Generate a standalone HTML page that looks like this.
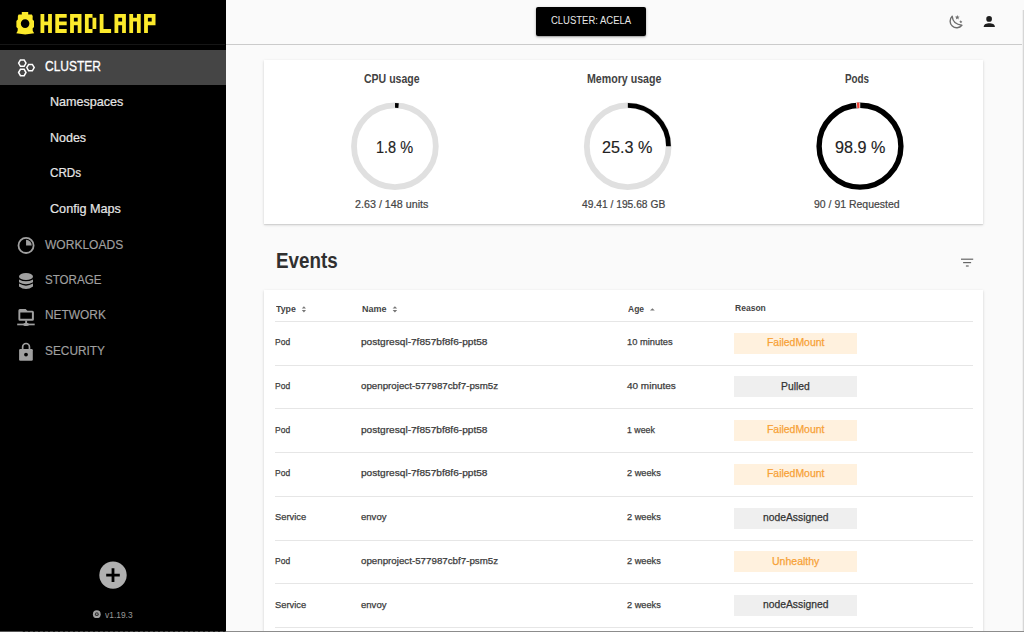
<!DOCTYPE html>
<html><head><meta charset="utf-8"><style>
html,body{margin:0;padding:0;width:1024px;height:632px;overflow:hidden;background:#fafafa;font-family:"Liberation Sans", sans-serif;}
.t{position:absolute;white-space:pre;line-height:1;transform-origin:0 0;}
.abs{position:absolute;}
</style></head><body>
<!-- sidebar -->
<div class=abs style="left:0;top:0;width:225.5px;height:632px;background:#000"></div>
<div class=abs style="left:0;top:44px;width:225px;height:1px;background:#161616"></div>
<div class=abs style="left:0;top:49.6px;width:225.5px;height:35px;background:#454545"></div>
<svg style="position:absolute;left:0;top:0" width="170" height="45" viewBox="0 0 170 45">
<g fill="#fcea2b">
<path fill-rule="evenodd" d="M21.8 12.1 H28.2 V14.5 H31.8 L32.7 16 L32.6 19.5 L34 21 L34 27 L32.6 28.5 L32.8 31 L34.2 33.2 L25.2 34.4 L16.3 33.2 L17.6 31 L17.8 28.5 L16.4 27 L16.4 21 L17.8 19.5 L17.9 16 L18.6 14.5 H21.8 Z M25.1 19.3 A4.3 4.3 0 1 0 25.1 27.9 A4.3 4.3 0 1 0 25.1 19.3 Z"/>
<path d="M40.50 13.90h3.80v19.00h-3.80ZM48.10 13.90h3.80v19.00h-3.80ZM44.30 21.50h3.80v3.80h-3.80ZM55.30 13.90h3.80v19.00h-3.80ZM59.10 13.90h3.80v3.80h-3.80ZM62.90 13.90h3.80v3.80h-3.80ZM59.10 21.50h3.80v3.80h-3.80ZM62.90 21.50h3.80v3.80h-3.80ZM59.10 29.10h3.80v3.80h-3.80ZM62.90 29.10h3.80v3.80h-3.80ZM70.10 13.90h3.80v19.00h-3.80ZM77.70 13.90h3.80v19.00h-3.80ZM73.90 13.90h3.80v3.80h-3.80ZM73.90 21.50h3.80v3.80h-3.80ZM84.90 13.90h3.80v19.00h-3.80ZM88.70 13.90h3.80v3.80h-3.80ZM88.70 29.10h3.80v3.80h-3.80ZM92.50 17.70h3.80v11.40h-3.80ZM99.70 13.90h3.80v19.00h-3.80ZM103.50 29.10h3.80v3.80h-3.80ZM107.30 29.10h3.80v3.80h-3.80ZM114.50 13.90h3.80v19.00h-3.80ZM122.10 13.90h3.80v19.00h-3.80ZM118.30 13.90h3.80v3.80h-3.80ZM118.30 21.50h3.80v3.80h-3.80ZM129.30 13.90h3.80v19.00h-3.80ZM136.90 13.90h3.80v19.00h-3.80ZM133.10 17.70h3.80v3.80h-3.80ZM144.10 13.90h3.80v19.00h-3.80ZM147.90 13.90h3.80v3.80h-3.80ZM151.70 13.90h3.80v11.40h-3.80ZM147.90 21.50h3.80v3.80h-3.80Z"/>
</g></svg>
<svg class=abs style="left:0;top:0" width="226" height="632">
<g fill="none" stroke="#fff" stroke-width="1.5">
<path d="M18.6 63.1 L20.45 59.9 L24.15 59.9 L26 63.1 L24.15 66.3 L20.45 66.3 Z"/>
<path d="M26.8 67.6 L28.65 64.4 L32.35 64.4 L34.2 67.6 L32.35 70.8 L28.65 70.8 Z"/>
<path d="M18.6 72.5 L20.45 69.3 L24.15 69.3 L26 72.5 L24.15 75.7 L20.45 75.7 Z"/>
</g>
<g fill="#a0a0a0" stroke="#a0a0a0">
<circle cx="26.05" cy="245.45" r="7.55" fill="none" stroke-width="1.8"/>
<path d="M26.05 239.75 V245.45 H31.75 A5.7 5.7 0 0 0 26.05 239.75 Z" stroke="none"/>
</g>
<g fill="#a0a0a0">
<ellipse cx="26" cy="276.5" rx="7" ry="3.6"/>
<path d="M19 279.4 Q26 283.1 33 279.4 V282.2 Q26 286.2 19 282.2 Z"/>
<path d="M19 283.6 Q26 287.8 33 283.6 V286.6 Q26 291.6 19 286.6 Z"/>
</g>
<g fill="#a0a0a0">
<path fill-rule="evenodd" d="M19.9 308.9 H25.6 L27.4 310.8 H32.4 Q33.9 310.8 33.9 312.3 V319.2 Q33.9 320.7 32.4 320.7 H19.9 Q18.4 320.7 18.4 319.2 V310.4 Q18.4 308.9 19.9 308.9 Z M20.3 312.5 V318.8 H31.9 V312.5 Z"/>
<rect x="25.2" y="320.5" width="1.9" height="3.3"/>
<rect x="17.2" y="323.6" width="17.5" height="1.7"/>
<ellipse cx="26.15" cy="324.4" rx="2.9" ry="1.7"/>
</g>
<g fill="#a8a8a8">
<path d="M22.65 349.6 V346.9 A3.4 3.4 0 0 1 29.45 346.9 V349.6" fill="none" stroke="#a0a0a0" stroke-width="1.7"/>
<rect x="19.1" y="349.1" width="13.7" height="11.7" rx="1.2" fill="#a0a0a0"/>
</g>
<circle cx="26" cy="354.6" r="1.9" fill="#000"/>
<circle cx="113" cy="575.1" r="13.7" fill="#b0b0b0"/>
<path d="M106.2 575.1 H119.8 M113 568.3 V581.9" stroke="#000" stroke-width="2.8"/>
<circle cx="96.8" cy="614.2" r="3.9" fill="#a0a0a0"/>
<circle cx="96.8" cy="614.2" r="1.9" fill="#303030"/>
<circle cx="96.8" cy="614.2" r="0.9" fill="#909090"/>
</svg>
<!-- header -->
<div class=abs style="left:225.5px;top:44px;width:796px;height:1px;background:#cbcbcb"></div>
<div class=abs style="left:1022px;top:10px;width:1px;height:622px;background:#f0f0f0"></div><div class=abs style="left:1023px;top:10px;width:1px;height:622px;background:#d6d6d6"></div>
<div class=abs style="left:535.8px;top:7.3px;width:110.6px;height:29px;background:#000;border-radius:2px;box-shadow:0 1px 3px rgba(0,0,0,0.3),0 1px 1px rgba(0,0,0,0.15)"></div>
<!-- summary card -->
<div class=abs style="left:264px;top:60px;width:719px;height:164px;background:#fff;box-shadow:0 1px 3px rgba(0,0,0,0.14),0 1px 1px rgba(0,0,0,0.08)"></div>
<!-- table card -->
<div class=abs style="left:263.6px;top:289.7px;width:719.6px;height:360px;background:#fff;box-shadow:0 1px 3px rgba(0,0,0,0.14),0 1px 1px rgba(0,0,0,0.08)"></div>
<div style="position:absolute;left:275px;top:320.80px;width:698px;height:1px;background:#e6e6e6"></div><div style="position:absolute;left:275px;top:364.55px;width:698px;height:1px;background:#e6e6e6"></div><div style="position:absolute;left:275px;top:408.30px;width:698px;height:1px;background:#e6e6e6"></div><div style="position:absolute;left:275px;top:452.05px;width:698px;height:1px;background:#e6e6e6"></div><div style="position:absolute;left:275px;top:495.80px;width:698px;height:1px;background:#e6e6e6"></div><div style="position:absolute;left:275px;top:539.55px;width:698px;height:1px;background:#e6e6e6"></div><div style="position:absolute;left:275px;top:583.30px;width:698px;height:1px;background:#e6e6e6"></div><div style="position:absolute;left:275px;top:627.05px;width:698px;height:1px;background:#e6e6e6"></div>
<div style="position:absolute;left:734px;top:332.50px;width:123px;height:21.2px;background:#fff1de"></div><div style="position:absolute;left:734px;top:376.25px;width:123px;height:21.2px;background:#efefef"></div><div style="position:absolute;left:734px;top:420.00px;width:123px;height:21.2px;background:#fff1de"></div><div style="position:absolute;left:734px;top:463.75px;width:123px;height:21.2px;background:#fff1de"></div><div style="position:absolute;left:734px;top:507.50px;width:123px;height:21.2px;background:#efefef"></div><div style="position:absolute;left:734px;top:551.25px;width:123px;height:21.2px;background:#fff1de"></div><div style="position:absolute;left:734px;top:595.00px;width:123px;height:21.2px;background:#efefef"></div>
<!-- rings -->
<svg class=abs style="left:0;top:0" width="1024" height="632">
<circle cx="394.9" cy="146.2" r="40.9" fill="none" stroke="#e0e0e0" stroke-width="5.8"/>
<circle cx="627.7" cy="146.2" r="40.9" fill="none" stroke="#e0e0e0" stroke-width="5.8"/>
<circle cx="394.9" cy="146.2" r="40.8" fill="none" stroke="#000" stroke-width="4.8" pathLength="1000" stroke-dasharray="14 986" transform="rotate(-89.8 394.9 146.2)"/>
<circle cx="627.7" cy="146.2" r="40.8" fill="none" stroke="#000" stroke-width="4.8" pathLength="1000" stroke-dasharray="250 750" transform="rotate(-89.8 627.7 146.2)"/>
<circle cx="860" cy="146.2" r="40.9" fill="none" stroke="#000" stroke-width="5.4"/>
<circle cx="860" cy="146.2" r="40.9" fill="none" stroke="#fff" stroke-width="5.6" pathLength="3600" stroke-dasharray="56 3544" transform="rotate(-95.2 860 146.2)"/>
<circle cx="860" cy="146.2" r="40.9" fill="none" stroke="#f44336" stroke-width="5.6" pathLength="3600" stroke-dasharray="34 3566" transform="rotate(-94.1 860 146.2)"/>
<!-- header icons -->
<path d="M952.2 16.3 A6.6 6.6 0 1 0 961.9 25.2 Q952.9 24.4 952.2 16.3 Z" fill="none" stroke="#6e6e6e" stroke-width="1.4" stroke-linejoin="round"/>
<g fill="#6e6e6e">
<path d="M957.30 14.90 L957.95 16.51 L959.68 16.63 L958.35 17.74 L958.77 19.42 L957.30 18.50 L955.83 19.42 L956.25 17.74 L954.92 16.63 L956.65 16.51Z"/>
<path d="M960.80 20.10 L961.27 21.15 L962.42 21.27 L961.56 22.05 L961.80 23.18 L960.80 22.60 L959.80 23.18 L960.04 22.05 L959.18 21.27 L960.33 21.15Z"/>
</g>
<g fill="#1e1e1e">
<circle cx="989.1" cy="18.9" r="2.85"/>
<path d="M983.7 27 C983.7 24.1 986.5 23.2 989.3 23.2 C992.1 23.2 994.9 24.1 994.9 27 Z"/>
</g>
<!-- filter icon -->
<g fill="#666">
<rect x="961" y="258.6" width="12.2" height="1.2"/>
<rect x="963.1" y="262.0" width="8" height="1.2"/>
<rect x="965.9" y="265.4" width="2.8" height="1.2"/>
</g>
<!-- sort icons -->
<g fill="#777">
<path d="M301.8 308.6 L303.9 306.2 L306 308.6 Z M301.8 310 L306 310 L303.9 312.4 Z"/>
<path d="M392.6 308.6 L394.9 306.2 L397.2 308.6 Z M392.6 310 L397.2 310 L394.9 312.4 Z"/>
<path d="M650 310.6 L652.4 308.2 L654.8 310.6 Z"/>
</g>
</svg>
<div class=t style="left:45.20px;top:59.79px;font-size:13.95px;font-weight:400;color:#ffffff;transform:scaleX(0.861);-webkit-text-stroke:0.3px #ffffff">CLUSTER</div><div class=t style="left:49.80px;top:96.34px;font-size:12.35px;font-weight:400;color:#e6e6e6;transform:scaleX(1.019);-webkit-text-stroke:0.2px #e6e6e6">Namespaces</div><div class=t style="left:49.80px;top:131.94px;font-size:12.35px;font-weight:400;color:#e6e6e6;transform:scaleX(1.012);-webkit-text-stroke:0.2px #e6e6e6">Nodes</div><div class=t style="left:49.80px;top:167.14px;font-size:12.35px;font-weight:400;color:#e6e6e6;transform:scaleX(0.945);-webkit-text-stroke:0.2px #e6e6e6">CRDs</div><div class=t style="left:49.80px;top:202.74px;font-size:12.35px;font-weight:400;color:#e6e6e6;transform:scaleX(1.023);-webkit-text-stroke:0.2px #e6e6e6">Config Maps</div><div class=t style="left:44.90px;top:237.93px;font-size:13.08px;font-weight:400;color:#a0a0a0;transform:scaleX(0.920);-webkit-text-stroke:0.15px #a0a0a0">WORKLOADS</div><div class=t style="left:44.90px;top:273.57px;font-size:12.79px;font-weight:400;color:#a0a0a0;transform:scaleX(0.907);-webkit-text-stroke:0.15px #a0a0a0">STORAGE</div><div class=t style="left:45.20px;top:309.17px;font-size:12.79px;font-weight:400;color:#a0a0a0;transform:scaleX(0.932);-webkit-text-stroke:0.15px #a0a0a0">NETWORK</div><div class=t style="left:45.20px;top:344.67px;font-size:12.79px;font-weight:400;color:#a0a0a0;transform:scaleX(0.928);-webkit-text-stroke:0.15px #a0a0a0">SECURITY</div><div class=t style="left:105.30px;top:610.53px;font-size:9.30px;font-weight:400;color:#9a9a9a;transform:scaleX(0.905)">v1.19.3</div><div class=t style="left:550.90px;top:14.65px;font-size:11.05px;font-weight:400;color:#e8e8e8;transform:scaleX(0.858)">CLUSTER: ACELA</div><div class=t style="left:363.80px;top:72.89px;font-size:12.06px;font-weight:700;color:#424242;transform:scaleX(0.873)">CPU usage</div><div class=t style="left:587.00px;top:72.99px;font-size:12.06px;font-weight:700;color:#424242;transform:scaleX(0.882)">Memory usage</div><div class=t style="left:844.80px;top:72.99px;font-size:12.06px;font-weight:700;color:#424242;transform:scaleX(0.818)">Pods</div><div class=t style="left:375.90px;top:139.91px;font-size:15.70px;font-weight:400;color:#222222;transform:scaleX(0.925);-webkit-text-stroke:0.15px #222222">1.8 %</div><div class=t style="left:602.00px;top:140.01px;font-size:15.70px;font-weight:400;color:#222222;transform:scaleX(1.032);-webkit-text-stroke:0.15px #222222">25.3 %</div><div class=t style="left:834.70px;top:140.01px;font-size:15.70px;font-weight:400;color:#222222;transform:scaleX(1.032);-webkit-text-stroke:0.15px #222222">98.9 %</div><div class=t style="left:354.60px;top:198.75px;font-size:11.05px;font-weight:400;color:#444444;transform:scaleX(0.972);-webkit-text-stroke:0.2px #444444">2.63 / 148 units</div><div class=t style="left:582.10px;top:198.75px;font-size:11.05px;font-weight:400;color:#444444;transform:scaleX(0.928);-webkit-text-stroke:0.2px #444444">49.41 / 195.68 GB</div><div class=t style="left:813.70px;top:198.75px;font-size:11.05px;font-weight:400;color:#444444;transform:scaleX(0.948);-webkit-text-stroke:0.2px #444444">90 / 91 Requested</div><div class=t style="left:276.00px;top:250.22px;font-size:21.95px;font-weight:700;color:#303030;transform:scaleX(0.856)">Events</div><div class=t style="left:275.75px;top:303.78px;font-size:9.59px;font-weight:700;color:#454545;transform:scaleX(0.917)">Type</div><div class=t style="left:361.70px;top:303.78px;font-size:9.59px;font-weight:700;color:#454545;transform:scaleX(0.939)">Name</div><div class=t style="left:627.80px;top:303.78px;font-size:9.59px;font-weight:700;color:#454545;transform:scaleX(0.889)">Age</div><div class=t style="left:734.50px;top:303.28px;font-size:9.59px;font-weight:700;color:#454545;transform:scaleX(0.890)">Reason</div><div class=t style="left:275.30px;top:337.00px;font-size:9.45px;font-weight:400;color:#3c3c3c;transform:scaleX(0.899);-webkit-text-stroke:0.25px #3c3c3c">Pod</div><div class=t style="left:361.20px;top:337.00px;font-size:9.45px;font-weight:400;color:#3c3c3c;transform:scaleX(1.071);-webkit-text-stroke:0.25px #3c3c3c">postgresql-7f857bf8f6-ppt58</div><div class=t style="left:627.20px;top:337.00px;font-size:9.45px;font-weight:400;color:#3c3c3c;transform:scaleX(0.988);-webkit-text-stroke:0.25px #3c3c3c">10 minutes</div><div class=t style="left:766.70px;top:336.77px;font-size:10.90px;font-weight:400;color:#f7a136;transform:scaleX(0.958);-webkit-text-stroke:0.25px #f7a136">FailedMount</div><div class=t style="left:275.30px;top:380.75px;font-size:9.45px;font-weight:400;color:#3c3c3c;transform:scaleX(0.899);-webkit-text-stroke:0.25px #3c3c3c">Pod</div><div class=t style="left:361.20px;top:380.75px;font-size:9.45px;font-weight:400;color:#3c3c3c;transform:scaleX(1.033);-webkit-text-stroke:0.25px #3c3c3c">openproject-577987cbf7-psm5z</div><div class=t style="left:627.20px;top:380.75px;font-size:9.45px;font-weight:400;color:#3c3c3c;transform:scaleX(1.057);-webkit-text-stroke:0.25px #3c3c3c">40 minutes</div><div class=t style="left:781.05px;top:380.52px;font-size:10.90px;font-weight:400;color:#333333;transform:scaleX(0.948);-webkit-text-stroke:0.25px #333333">Pulled</div><div class=t style="left:275.30px;top:424.50px;font-size:9.45px;font-weight:400;color:#3c3c3c;transform:scaleX(0.899);-webkit-text-stroke:0.25px #3c3c3c">Pod</div><div class=t style="left:361.20px;top:424.50px;font-size:9.45px;font-weight:400;color:#3c3c3c;transform:scaleX(1.071);-webkit-text-stroke:0.25px #3c3c3c">postgresql-7f857bf8f6-ppt58</div><div class=t style="left:627.20px;top:424.50px;font-size:9.45px;font-weight:400;color:#3c3c3c;transform:scaleX(0.930);-webkit-text-stroke:0.25px #3c3c3c">1 week</div><div class=t style="left:766.70px;top:424.27px;font-size:10.90px;font-weight:400;color:#f7a136;transform:scaleX(0.958);-webkit-text-stroke:0.25px #f7a136">FailedMount</div><div class=t style="left:275.30px;top:468.25px;font-size:9.45px;font-weight:400;color:#3c3c3c;transform:scaleX(0.899);-webkit-text-stroke:0.25px #3c3c3c">Pod</div><div class=t style="left:361.20px;top:468.25px;font-size:9.45px;font-weight:400;color:#3c3c3c;transform:scaleX(1.071);-webkit-text-stroke:0.25px #3c3c3c">postgresql-7f857bf8f6-ppt58</div><div class=t style="left:627.20px;top:468.25px;font-size:9.45px;font-weight:400;color:#3c3c3c;transform:scaleX(0.976);-webkit-text-stroke:0.25px #3c3c3c">2 weeks</div><div class=t style="left:766.70px;top:468.02px;font-size:10.90px;font-weight:400;color:#f7a136;transform:scaleX(0.958);-webkit-text-stroke:0.25px #f7a136">FailedMount</div><div class=t style="left:275.30px;top:512.00px;font-size:9.45px;font-weight:400;color:#3c3c3c;transform:scaleX(0.991);-webkit-text-stroke:0.25px #3c3c3c">Service</div><div class=t style="left:361.20px;top:512.00px;font-size:9.45px;font-weight:400;color:#3c3c3c;transform:scaleX(1.012);-webkit-text-stroke:0.25px #3c3c3c">envoy</div><div class=t style="left:627.20px;top:512.00px;font-size:9.45px;font-weight:400;color:#3c3c3c;transform:scaleX(0.976);-webkit-text-stroke:0.25px #3c3c3c">2 weeks</div><div class=t style="left:762.70px;top:511.77px;font-size:10.90px;font-weight:400;color:#333333;transform:scaleX(0.947);-webkit-text-stroke:0.25px #333333">nodeAssigned</div><div class=t style="left:275.30px;top:555.75px;font-size:9.45px;font-weight:400;color:#3c3c3c;transform:scaleX(0.899);-webkit-text-stroke:0.25px #3c3c3c">Pod</div><div class=t style="left:361.20px;top:555.75px;font-size:9.45px;font-weight:400;color:#3c3c3c;transform:scaleX(1.033);-webkit-text-stroke:0.25px #3c3c3c">openproject-577987cbf7-psm5z</div><div class=t style="left:627.20px;top:555.75px;font-size:9.45px;font-weight:400;color:#3c3c3c;transform:scaleX(0.976);-webkit-text-stroke:0.25px #3c3c3c">2 weeks</div><div class=t style="left:771.70px;top:555.52px;font-size:10.90px;font-weight:400;color:#f7a136;transform:scaleX(0.966);-webkit-text-stroke:0.25px #f7a136">Unhealthy</div><div class=t style="left:275.30px;top:599.50px;font-size:9.45px;font-weight:400;color:#3c3c3c;transform:scaleX(0.991);-webkit-text-stroke:0.25px #3c3c3c">Service</div><div class=t style="left:361.20px;top:599.50px;font-size:9.45px;font-weight:400;color:#3c3c3c;transform:scaleX(1.012);-webkit-text-stroke:0.25px #3c3c3c">envoy</div><div class=t style="left:627.20px;top:599.50px;font-size:9.45px;font-weight:400;color:#3c3c3c;transform:scaleX(0.976);-webkit-text-stroke:0.25px #3c3c3c">2 weeks</div><div class=t style="left:762.70px;top:599.27px;font-size:10.90px;font-weight:400;color:#333333;transform:scaleX(0.947);-webkit-text-stroke:0.25px #333333">nodeAssigned</div>
<div class=abs style="left:226px;top:631px;width:798px;height:1px;background:#8c8c8c"></div>
<div class=abs style="left:0;top:631px;width:226px;height:1px;background:repeating-linear-gradient(90deg,#4a4a4a 0 3px,#222 3px 5px)"></div><div class=abs style="left:0;top:631px;width:22px;height:1px;background:#555"></div>
</body></html>
